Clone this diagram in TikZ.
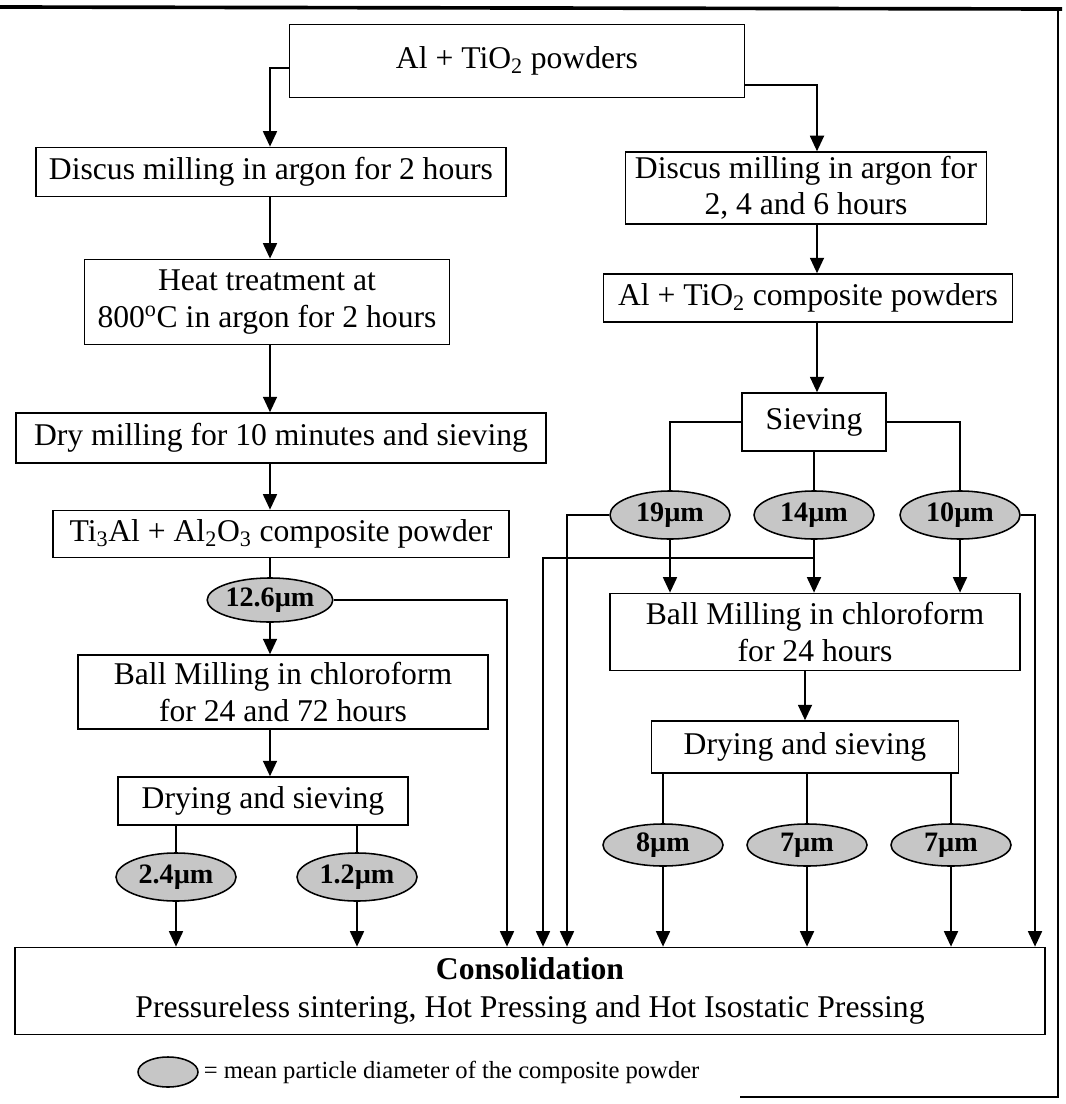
\documentclass[tikz,border=0pt]{standalone}
\usepackage{fontspec}
\setmainfont{Liberation Serif}
\usetikzlibrary{arrows.meta,shapes.geometric}

\tikzset{
  stepbox/.style={draw, line width=1.1pt, align=center, inner sep=1pt,
    font=\fontsize{22.5}{26}\selectfont},
  particle/.style={ellipse, draw, line width=1.1pt, fill=gray!45, inner sep=0pt,
    minimum width=3cm, minimum height=1.2cm, font=\bfseries\fontsize{20}{22}\selectfont},
  flow/.style={line width=1.1pt, -{Triangle[width=10pt,length=11pt]}},
  link/.style={line width=1.1pt}
}

\begin{document}
\begin{tikzpicture}[x=0.025cm, y=-0.025cm]
\useasboundingbox (0,0) rectangle (1065,1104);

% frame (top, right, part of the bottom)
\draw[line width=2.6pt] (0,7) -- (1062,9);
\draw[line width=1.1pt] (1058,9) -- (1058,1097) -- (740,1097);

% left branch
\node[stepbox, minimum width=11.38cm, minimum height=1.83cm] (pow) at (517,61) {Al + TiO\textsubscript{2} powders};
\node[stepbox, minimum width=11.75cm, minimum height=1.23cm] (disc2) at (271,172) {Discus milling in argon for 2 hours};
\node[stepbox, minimum width=9.13cm, minimum height=2.13cm] (heat) at (267,302) {Heat treatment at\\800\textsuperscript{o}C in argon for 2 hours};
\node[stepbox, minimum width=13.25cm, minimum height=1.25cm] (dry) at (281,438) {Dry milling for 10 minutes and sieving};
\node[stepbox, minimum width=11.4cm, minimum height=1.18cm] (tial) at (281,534) {Ti\textsubscript{3}Al + Al\textsubscript{2}O\textsubscript{3} composite powder};
\node[particle, minimum width=3.1cm, minimum height=1.1cm] (p126) at (270,600) {12.6µm};
\node[stepbox, minimum width=10.25cm, minimum height=1.85cm] (ballL) at (283,692) {Ball Milling in chloroform\\for 24 and 72 hours};
\node[stepbox, minimum width=7.25cm, minimum height=1.2cm] (dryL) at (263,801) {Drying and sieving};
\node[particle] (p24) at (176,877) {2.4µm};
\node[particle] (p12) at (357,877) {1.2µm};

% right branch
\node[stepbox, minimum width=9.03cm, minimum height=1.8cm] (disc246) at (806,188) {Discus milling in argon for\\2, 4 and 6 hours};
\node[stepbox, minimum width=10.23cm, minimum height=1.2cm] (comp) at (808,298) {Al + TiO\textsubscript{2} composite powders};
\node[stepbox, minimum width=3.6cm, minimum height=1.45cm] (sieve) at (814,422) {Sieving};
\node[particle] (p19) at (670,515) {19µm};
\node[particle] (p14) at (814,515) {14µm};
\node[particle] (p10) at (960,515) {10µm};
\node[stepbox, minimum width=10.25cm, minimum height=1.93cm] (ballR) at (815,632) {Ball Milling in chloroform\\for 24 hours};
\node[stepbox, minimum width=7.68cm, minimum height=1.3cm] (dryR) at (805,747) {Drying and sieving};
\node[particle, minimum height=1.05cm] (p8) at (663,845) {8µm};
\node[particle, minimum height=1.05cm] (p7a) at (807,845) {7µm};
\node[particle, minimum height=1.05cm] (p7b) at (951,845) {7µm};

% consolidation
\node[stepbox, minimum width=25.75cm, minimum height=2.18cm, font=\fontsize{22.5}{27}\selectfont] (cons) at (530,991) {\textbf{Consolidation}\\Pressureless sintering, Hot Pressing and Hot Isostatic Pressing};

% key
\node[particle, minimum width=1.5cm, minimum height=0.75cm] (key) at (168,1072) {};
\node[anchor=west, font=\fontsize{17.5}{19}\selectfont] (keytext) at (key.east) {= mean particle diameter of the composite powder};

% connector columns
\coordinate (lc) at (270,0);
\coordinate (lr) at (507,0);
\coordinate (rc) at (817,0);
\coordinate (rb) at (567,0);
\coordinate (ra) at (543,558);
\coordinate (rd) at (1035,0);

% left connectors
\draw[flow] ([yshift=-0.18cm]pow.west) -| (disc2.north -| lc);
\draw[flow] (disc2.south -| lc) -- (heat.north -| lc);
\draw[flow] (heat.south -| lc) -- (dry.north -| lc);
\draw[flow] (dry.south -| lc) -- (tial.north -| lc);
\draw[link] (tial.south -| lc) -- (p126.north -| lc);
\draw[flow] (p126.south -| lc) -- (ballL.north -| lc);
\draw[flow] (p126.east) -| (cons.north -| lr);
\draw[flow] (ballL.south -| lc) -- (dryL.north -| lc);
\draw[link] (dryL.south -| p24) -- (p24.north);
\draw[link] (dryL.south -| p12) -- (p12.north);
\draw[flow] (p24.south) -- (cons.north -| p24);
\draw[flow] (p12.south) -- (cons.north -| p12);

% right connectors
\draw[flow] ([yshift=-0.6cm]pow.east) -| (disc246.north -| rc);
\draw[flow] (disc246.south -| rc) -- (comp.north -| rc);
\draw[flow] (comp.south -| rc) -- (sieve.north -| rc);
\draw[link] (sieve.west) -| (p19.north);
\draw[link] (sieve.south) -- (p14.north);
\draw[link] (sieve.east) -| (p10.north);
\draw[flow] (p19.south) -- (ballR.north -| p19);
\draw[flow] (p14.south) -- (ballR.north -| p14);
\draw[flow] (p10.south) -- (ballR.north -| p10);
\draw[flow] (p19.west) -| (cons.north -| rb);
\draw[flow] (p14 |- ra) -- (ra) -- (cons.north -| ra);
\draw[flow] (p10.east) -| (cons.north -| rd);
\draw[flow] (ballR.south -| dryR) -- (dryR.north);
\draw[link] (dryR.south -| p8) -- (p8.north);
\draw[link] (dryR.south -| p7a) -- (p7a.north);
\draw[link] (dryR.south -| p7b) -- (p7b.north);
\draw[flow] (p8.south) -- (cons.north -| p8);
\draw[flow] (p7a.south) -- (cons.north -| p7a);
\draw[flow] (p7b.south) -- (cons.north -| p7b);
\end{tikzpicture}
\end{document}
